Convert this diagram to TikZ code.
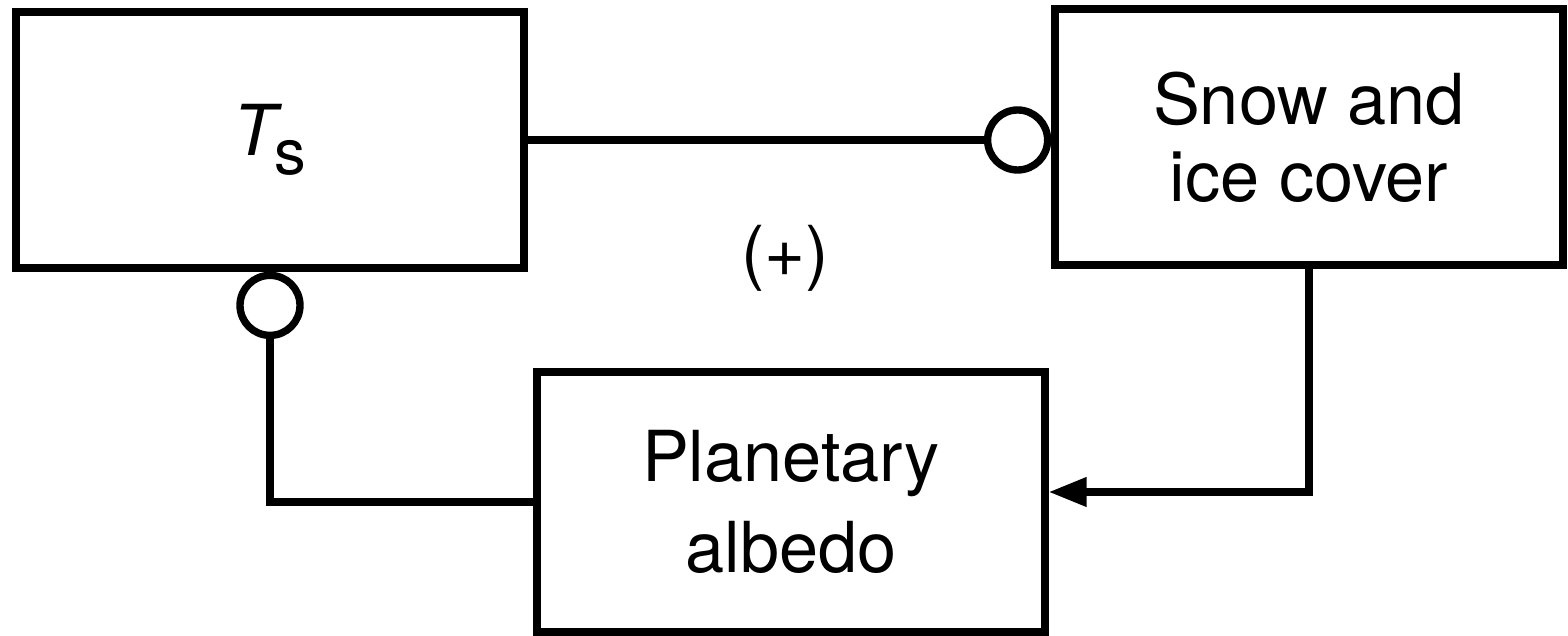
\documentclass[tikz,border=0pt]{standalone}
\usepackage{fontspec}
\setsansfont{TeX Gyre Heros}
\usepackage{tikz}
\usetikzlibrary{arrows.meta, positioning}
\newcommand{\Tsurf}{{\itshape T}\kern-0.5pt\raisebox{-5.5pt}{\fontsize{18}{18}\selectfont s}}

\begin{document}
\begin{tikzpicture}[
  font=\sffamily\fontsize{20}{24}\selectfont,
  blk/.style={draw, line width=2.1pt, minimum width=5.08cm, minimum height=2.56cm,
    align=center, inner sep=0pt},
  sink/.style={draw, circle, line width=2.1pt, minimum size=0.6cm, inner sep=0pt},
  link/.style={line width=2.1pt},
  fbk/.style={-{Triangle[length=3.8mm, width=2.8mm]}, line width=2.1pt},
]
  \useasboundingbox (0,0) rectangle (15.68,-6.36);

  %% Boxes
  \node[blk] (ts)   at (2.70,-1.40) {\Tsurf};
  \node[blk] (snow) at (13.09,-1.37) {Snow and\\[-2pt] ice cover};
  \node[blk, minimum height=2.60cm] (alb) at (7.91,-5.02) {Planetary\\[2pt] albedo};

  %% Open circles (negative links)
  \node[sink, left=0pt of snow.west |- ts.east] (c1) {};
  \node[sink, below=0pt of ts.south] (c2) {};

  %% Sign of the loop
  \node (sign) at (7.85,-2.58) {(+)};

  %% Connectors
  \draw[link] (ts.east) -- (c1.west);
  \draw[link] (c2.south) |- (alb.west);
  \draw[fbk] (snow.south) |- ([yshift=1mm]alb.east);
\end{tikzpicture}
\end{document}
